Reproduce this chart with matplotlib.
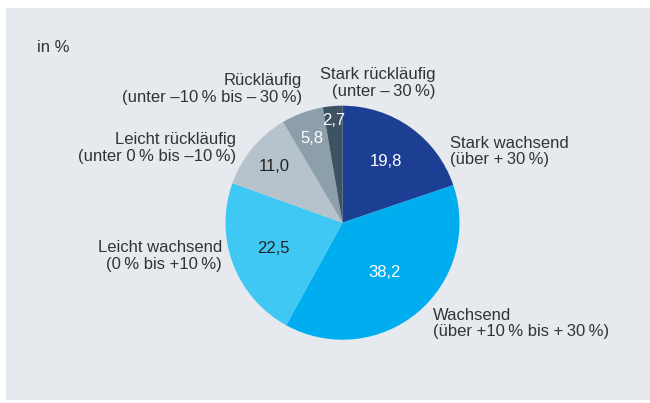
import matplotlib
matplotlib.use("Agg")
import matplotlib.pyplot as plt
from matplotlib.patches import Rectangle
import numpy as np

plt.rcParams['font.family'] = ['Liberation Sans', 'DejaVu Sans']

categories = ["Stark wachsend\n(über +\u200930\u2009%)",
              "Wachsend\n(über +10\u2009% bis +\u200930\u2009%)",
              "Leicht wachsend\n(0\u2009% bis +10\u2009%)",
              "Leicht rückläufig\n(unter 0\u2009% bis \u201310\u2009%)",
              "Rückläufig\n(unter \u201310\u2009% bis \u2013\u200930\u2009%)",
              "Stark rückläufig\n(unter \u2013\u200930\u2009%)"]
values = [19.8, 38.2, 22.5, 11.0, 5.8, 2.7]
value_labels = ["19,8", "38,2", "22,5", "11,0", "5,8", "2,7"]

colors = ["#1c3f94", "#00aeef", "#40c8f4", "#b7c3cc", "#8d9fab", "#3e5362"]
value_colors = ["white", "white", "#222222", "#222222", "white", "white"]
value_radius = [0.64, 0.56, 0.63, 0.76, 0.77, 0.875]

W, H = 650, 403
fig = plt.figure(figsize=(W / 100, H / 100), dpi=100)
fig.patch.set_facecolor("white")
ax = fig.add_axes([0, 0, 1, 1])

ax.add_patch(Rectangle((6, 3), W - 6, 392, facecolor="#e6e9ee", edgecolor="none", zorder=0))

cx, cy, R = 342.5, H - 222.7, 117
wedges, _ = ax.pie(values, colors=colors, startangle=90, counterclock=False,
                   center=(cx, cy), radius=R, frame=True,
                   wedgeprops=dict(linewidth=0))
ax.set_xlim(0, W)
ax.set_ylim(0, H)
ax.set_aspect("equal")
ax.axis("off")

for w, lab, col, rr in zip(wedges, value_labels, value_colors, value_radius):
    ang = np.deg2rad((w.theta1 + w.theta2) / 2)
    ax.text(cx + rr * R * np.cos(ang), cy + rr * R * np.sin(ang), lab,
            ha="center", va="center", color=col, fontsize=12)

txt = "#333333"
fs = 12
outer = [(450, 151.5, "left"), (433, 323.5, "left"), (222, 256, "right"),
         (236, 148, "right"), (302, 89, "right"), (435, 83, "right")]
for (x, y, ha), lab in zip(outer, categories):
    ax.text(x, H - y, lab, ha=ha, va="center", color=txt, fontsize=fs, linespacing=1.1)

ax.text(37, H - 47, "in %", ha="left", va="center", color=txt, fontsize=fs)

fig.savefig("out.png", dpi=100, facecolor="white")
